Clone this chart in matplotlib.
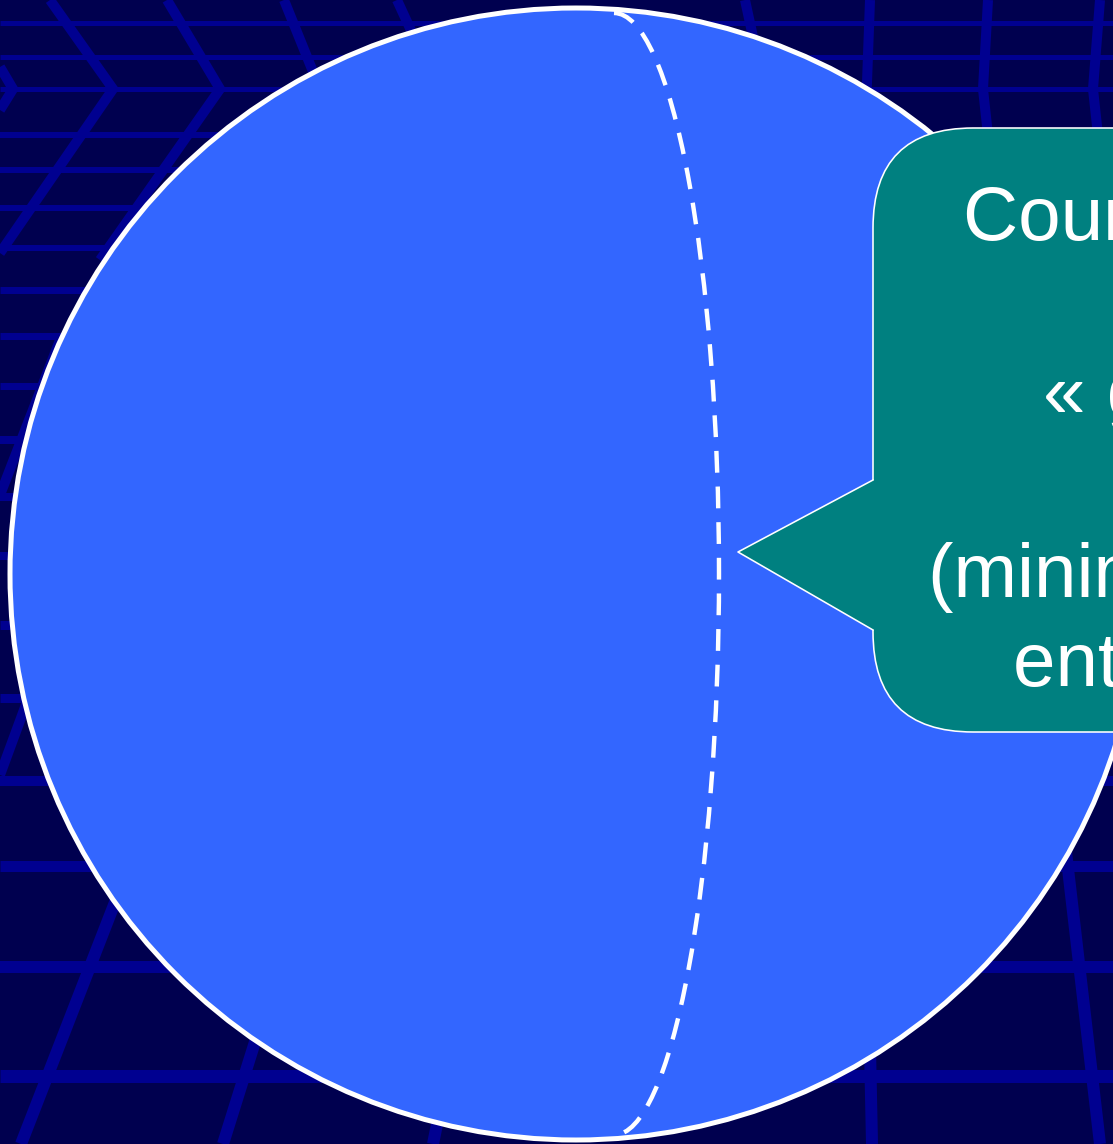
import numpy as np
import matplotlib
matplotlib.use('Agg')
import matplotlib.pyplot as plt
from matplotlib import patches

# slide content
callout_lines = ['Courbe de longueur', '« géodésique »', '(minimum de distance', 'entre deux points)']
callout_x = [963, 1043, 928, 1013]
callout_baseline = [240, 417, 597, 686]

# sphere (pixels of the slide)
sphere_center = (576, 574)
sphere_radius = 566
meridian_center = (614, 574)
meridian_axes = (105, 561)

# background grid
grid_rows = [23, 57, 89, 135, 170, 208, 248, 290, 336, 386, 440, 497, 556, 625, 698, 781, 866, 967, 1076]
grid_row_widths = [5, 5, 5, 6, 6, 6, 6, 7, 7, 7, 8, 8, 8, 9, 9, 10, 11, 12, 13]
grid_slants = [
    [(0, 67), (13, 89), (0, 110)],
    [(50, 0), (113, 89), (0, 253)],
    [(167, 0), (220, 89), (100, 260)],
    [(284, 0), (320, 89), (260, 200)],
    [(397, 0), (420, 50)],
    [(745, 0), (758, 60)],
    [(870, 0), (866, 110)],
    [(988, 0), (983, 89), (995, 200)],
    [(1100, 0), (1093, 89), (1105, 200)],
    [(60, 340), (0, 495)],
    [(60, 612), (0, 775)],
    [(140, 838), (21, 1144)],
    [(290, 930), (223, 1144)],
    [(450, 1060), (433, 1144)],
    [(869, 1000), (872, 1144)],
    [(1060, 800), (1100, 1144)],
]

BG = '#00004f'
GRID = '#000090'
SPHERE = '#3366ff'
TEAL = '#008080'
PX = 0.72  # points per pixel at dpi 100

plt.rcParams['font.family'] = ['Liberation Sans', 'DejaVu Sans']

fig = plt.figure(figsize=(11.13, 11.44), dpi=100)
fig.patch.set_facecolor(BG)
ax = fig.add_axes([0, 0, 1, 1])
ax.set_xlim(0, 1113)
ax.set_ylim(1144, 0)
ax.axis('off')

for y, w in zip(grid_rows, grid_row_widths):
    ax.hlines(y, 0, 1113, color=GRID, lw=w * PX, zorder=1)
for seg in grid_slants:
    xs, ys = zip(*seg)
    w = 10 if ys[0] < 700 else 12
    ax.plot(xs, ys, color=GRID, lw=w * PX, solid_joinstyle='miter', solid_capstyle='butt', zorder=1)

# sphere and dashed meridian
ax.add_patch(patches.Circle(sphere_center, sphere_radius, facecolor=SPHERE, edgecolor='white',
                            lw=5 * PX, zorder=2))
ax.add_patch(patches.Arc(meridian_center, 2 * meridian_axes[0], 2 * meridian_axes[1],
                         theta1=-90, theta2=90, color='white', lw=4.4 * PX,
                         linestyle=(0, (4.95, 3.15)), zorder=3))

# callout box with pointer
box_left, box_top, box_bottom = 873, 128, 732
ax.add_patch(patches.FancyBboxPatch((box_left, box_top), 700, box_bottom - box_top,
                                    boxstyle='round,pad=0,rounding_size=100',
                                    facecolor=TEAL, edgecolor='white', lw=1.6 * PX, zorder=4))
tip = (738, 552)
ax.add_patch(patches.Polygon([(box_left + 8, 480), (box_left, 480), tip, (box_left, 630), (box_left + 8, 630)],
                             closed=True, facecolor=TEAL, edgecolor='none', zorder=5))
ax.plot([box_left, tip[0], box_left], [480, tip[1], 630], color='white', lw=1.6 * PX, zorder=6)

for txt, x, y in zip(callout_lines, callout_x, callout_baseline):
    ax.text(x, y, txt, color='white', fontsize=55, ha='left', va='baseline', zorder=7)

fig.savefig('out.png', dpi=100, facecolor=BG)
